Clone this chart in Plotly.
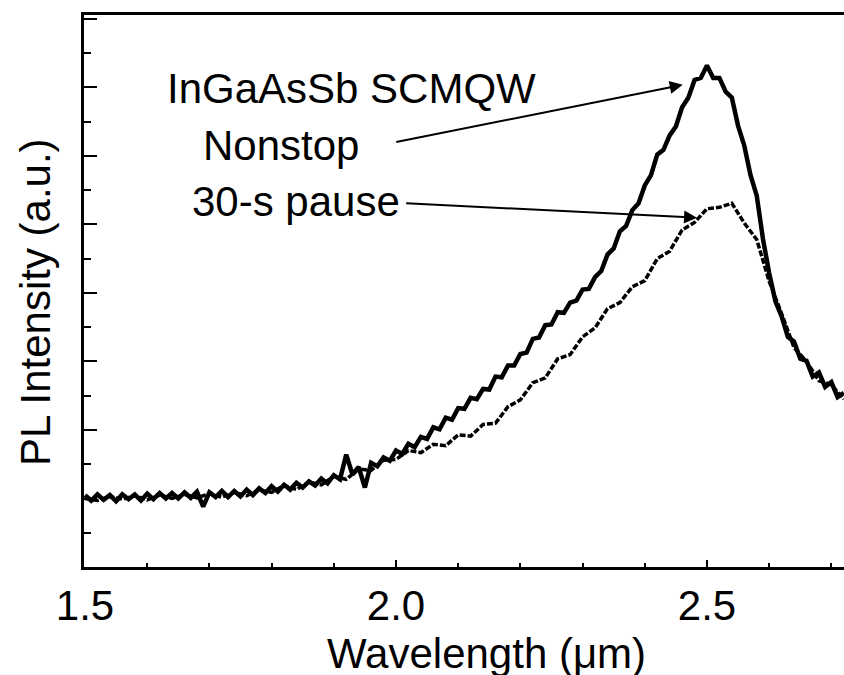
import plotly.graph_objects as go

# ---- data ----
wavelength_nonstop = [
    1.50, 1.51, 1.52, 1.53, 1.54, 1.55, 1.56, 1.57, 1.58, 1.59,
    1.60, 1.61, 1.62, 1.63, 1.64, 1.65, 1.66, 1.67, 1.68, 1.69,
    1.70, 1.71, 1.72, 1.73, 1.74, 1.75, 1.76, 1.77, 1.78, 1.79,
    1.80, 1.81, 1.82, 1.83, 1.84, 1.85, 1.86, 1.87, 1.88, 1.89,
    1.90, 1.91, 1.92, 1.93, 1.94, 1.95, 1.96, 1.97, 1.98, 1.99,
    2.00, 2.01, 2.02, 2.03, 2.04, 2.05, 2.06, 2.07, 2.08, 2.09,
    2.10, 2.11, 2.12, 2.13, 2.14, 2.15, 2.16, 2.17, 2.18, 2.19,
    2.20, 2.21, 2.22, 2.23, 2.24, 2.25, 2.26, 2.27, 2.28, 2.29,
    2.30, 2.31, 2.32, 2.33, 2.34, 2.35, 2.36, 2.37, 2.38, 2.39,
    2.40, 2.41, 2.42, 2.43, 2.44, 2.45, 2.46, 2.47, 2.48, 2.49,
    2.50, 2.51, 2.52, 2.53, 2.54, 2.55, 2.56, 2.57, 2.58, 2.59,
    2.60, 2.61, 2.62, 2.63, 2.64, 2.65, 2.66, 2.67, 2.68, 2.69,
    2.70, 2.71, 2.72,
]
pl_nonstop = [
    1.05, 0.97, 1.06, 0.98, 1.05, 0.96, 1.06, 0.99, 1.06, 0.97,
    1.07, 0.99, 1.08, 1.00, 1.08, 1.00, 1.09, 1.01, 1.10, 0.88,
    1.09, 1.02, 1.11, 1.02, 1.11, 1.03, 1.13, 1.05, 1.15, 1.08,
    1.18, 1.10, 1.20, 1.13, 1.23, 1.16, 1.25, 1.19, 1.29, 1.22,
    1.34, 1.28, 1.64, 1.35, 1.46, 1.16, 1.52, 1.47, 1.60, 1.55,
    1.70, 1.65, 1.80, 1.75, 1.90, 1.87, 2.04, 2.01, 2.18, 2.15,
    2.32, 2.31, 2.47, 2.45, 2.60, 2.59, 2.78, 2.77, 2.94, 2.94,
    3.11, 3.13, 3.33, 3.35, 3.53, 3.54, 3.72, 3.71, 3.86, 3.89,
    4.05, 4.06, 4.23, 4.32, 4.56, 4.65, 4.90, 4.98, 5.21, 5.31,
    5.57, 5.72, 6.02, 6.09, 6.30, 6.43, 6.71, 6.85, 7.11, 7.14,
    7.32, 7.14, 7.14, 6.94, 6.85, 6.44, 6.15, 5.72, 5.42, 4.79,
    4.29, 3.88, 3.66, 3.36, 3.29, 3.04, 3.01, 2.78, 2.84, 2.63,
    2.70, 2.48, 2.54,
]

wavelength_pause = [
    1.50, 1.52, 1.54, 1.56, 1.58, 1.60, 1.62, 1.64, 1.66, 1.68,
    1.70, 1.72, 1.74, 1.76, 1.78, 1.80, 1.82, 1.84, 1.86, 1.88,
    1.90, 1.92, 1.94, 1.96, 1.98, 2.00, 2.02, 2.04, 2.06, 2.08,
    2.10, 2.12, 2.14, 2.16, 2.18, 2.20, 2.22, 2.24, 2.26, 2.28,
    2.30, 2.32, 2.34, 2.36, 2.38, 2.40, 2.42, 2.44, 2.46, 2.48,
    2.50, 2.52, 2.54, 2.56, 2.58, 2.60, 2.62, 2.64, 2.66, 2.68,
    2.70, 2.72,
]
pl_pause = [
    1.00, 0.97, 1.03, 0.99, 1.04, 0.98, 1.05, 1.00, 1.06, 1.01,
    1.07, 1.02, 1.09, 1.04, 1.12, 1.09, 1.19, 1.13, 1.24, 1.20,
    1.32, 1.28, 1.43, 1.41, 1.56, 1.57, 1.70, 1.67, 1.79, 1.77,
    1.93, 1.91, 2.08, 2.10, 2.34, 2.44, 2.69, 2.76, 3.04, 3.10,
    3.36, 3.49, 3.77, 3.86, 4.09, 4.18, 4.50, 4.61, 4.92, 5.03,
    5.23, 5.25, 5.31, 5.02, 4.78, 4.17, 3.70, 3.20, 3.00, 2.72,
    2.66, 2.45,
]

x_tick_values = [1.5, 2.0, 2.5]
x_tick_labels = ["1.5", "2.0", "2.5"]

FONT = "Liberation Sans, Arial, sans-serif"
FS = 42

fig = go.Figure()
fig.add_trace(go.Scatter(x=wavelength_pause, y=pl_pause, mode="lines",
                         line=dict(color="black", width=3.5, dash="6px,2px"),
                         name="30-s pause"))
fig.add_trace(go.Scatter(x=wavelength_nonstop, y=pl_nonstop, mode="lines",
                         line=dict(color="black", width=4.5), name="Nonstop"))

ann = []
ann.append(dict(x=1.929, y=6.99, xref="x", yref="y", text="InGaAsSb SCMQW",
                showarrow=False, xanchor="center", yanchor="middle"))
ann.append(dict(x=1.815, y=6.15, xref="x", yref="y", text="Nonstop",
                showarrow=False, xanchor="center", yanchor="middle"))
ann.append(dict(x=1.839, y=5.33, xref="x", yref="y", text="30-s pause",
                showarrow=False, xanchor="center", yanchor="middle"))
# arrows
ann.append(dict(x=2.461, y=7.04, ax=1.998, ay=6.20, xref="x", yref="y",
                axref="x", ayref="y", text="", showarrow=True, arrowhead=2,
                arrowsize=1.3, arrowwidth=2, arrowcolor="black", standoff=0))
ann.append(dict(x=2.484, y=5.10, ax=2.014, ay=5.31, xref="x", yref="y",
                axref="x", ayref="y", text="", showarrow=True, arrowhead=2,
                arrowsize=1.3, arrowwidth=2, arrowcolor="black", standoff=0))
# axis titles
ann.append(dict(x=0.529, y=-0.156, xref="paper", yref="paper",
                text="Wavelength (\u03bcm)", showarrow=False,
                xanchor="center", yanchor="middle"))
ann.append(dict(x=-0.0645, y=0.48, xref="paper", yref="paper",
                text="PL Intensity (a.u.)", textangle=-90, showarrow=False,
                xanchor="center", yanchor="middle"))

fig.update_layout(
    width=844, height=675,
    margin=dict(l=84, r=0, t=15, b=108, autoexpand=False),
    paper_bgcolor="white", plot_bgcolor="white",
    showlegend=False,
    font=dict(family=FONT, size=FS, color="black"),
    annotations=ann,
)
fig.update_xaxes(
    range=[1.4984, 2.7203], showgrid=False, zeroline=False, automargin=False,
    showline=True, linecolor="black", linewidth=3, mirror=True,
    ticks="inside", ticklen=7, tickwidth=2, tickcolor="black",
    tickvals=x_tick_values, ticktext=x_tick_labels,
    tickfont=dict(family=FONT, size=FS, color="black"),
    minor=dict(ticks="inside", ticklen=4, tickwidth=2, tickcolor="black", dtick=0.1, showgrid=False),
)
fig.update_yaxes(
    range=[0, 8.058], showgrid=False, zeroline=False, automargin=False,
    showline=True, linecolor="black", linewidth=2.5, mirror=False,
    ticks="inside", ticklen=13, tickwidth=2, tickcolor="black",
    dtick=1, tick0=0, showticklabels=False,
    minor=dict(ticks="inside", ticklen=7, tickwidth=2, tickcolor="black", dtick=0.5, showgrid=False),
)

fig.write_html(
    "out.html",
    config={"displayModeBar": False},
    post_script="document.body.style.margin='0px';document.body.style.overflow='hidden';",
)
